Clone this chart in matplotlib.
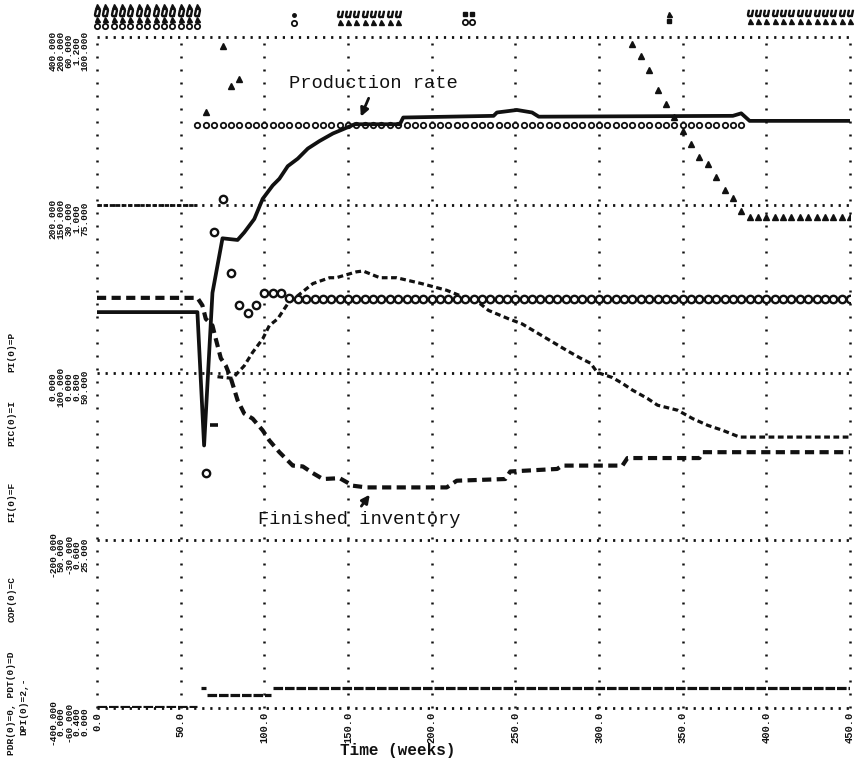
import numpy as np
import matplotlib
matplotlib.use("Agg")
import matplotlib.pyplot as plt

# ---------------- data (time in weeks, values on the -400..400 chart scale) -------------
X_TICKS = [0, 50, 100, 150, 200, 250, 300, 350, 400, 450]
X_LABELS = ["0.0", "50.0", "100.0", "150.0", "200.0", "250.0", "300.0", "350.0", "400.0", "450.0"]
Y_GRID = [-400, -200, 0, 200, 400]

# Production rate (solid line)
T_PROD = [0, 60, 64, 69, 75, 84, 88, 94, 99, 105, 109, 114, 120, 126, 133, 141, 147, 154,
          181, 183, 237, 239, 251, 260, 264, 380, 385, 390, 450]
PROD = [72, 72, -87, 95, 160, 158, 167, 183, 207, 223, 231, 246, 255, 267, 276, 285, 290, 296,
        296, 304, 306, 310, 313, 310, 305, 306, 309, 300, 300]

# Finished inventory (heavy dashes)
T_FINV = [0, 60, 63, 65, 69, 71, 74, 77, 80, 84, 88, 93, 99, 103, 109, 117, 123, 129, 135,
          145, 153, 161, 209, 215, 244, 247, 275, 278, 314, 317, 360, 362, 450]
FINV = [89, 89, 80, 64, 56, 40, 17, 8, -7, -33, -49, -55, -69, -81, -95, -111, -112, -120, -127,
        -126, -135, -137, -137, -129, -127, -118, -115, -111, -111, -102, -102, -95, -95]

# "-" symbol series (rises, then falls)
T_DASH_ISO = [70]
DASH_ISO = [-63]
T_DASH = [72, 81, 88, 93, 99, 103, 108, 114, 124, 129, 139, 143, 155, 159, 169, 179,
          194, 209, 229, 234, 246, 254, 281, 289, 295, 299, 308, 314, 320, 329, 335, 347, 356,
          365, 374, 384, 450]
DASH = [-5, -7, 8, 24, 40, 56, 64, 82, 98, 106, 113, 113, 120, 121, 113, 113,
        106, 98, 82, 74, 64, 58, 26, 17, 11, 0, -6, -13, -21, -31, -39, -45, -55,
        -63, -69, -77, -77]

# "O" symbol series (plotted every 5 weeks)
T_CIRC = [65, 70, 75, 80, 85, 90, 95, 100, 105, 110, 115, 120, 125, 130, 135, 140, 145, 150,
          155, 160, 165, 170, 175, 180, 185, 190, 195, 200, 205, 210, 215, 220, 225, 230, 235,
          240, 245, 250, 255, 260, 265, 270, 275, 280, 285, 290, 295, 300, 305, 310, 315, 320,
          325, 330, 335, 340, 345, 350, 355, 360, 365, 370, 375, 380, 385, 390, 395, 400, 405,
          410, 415, 420, 425, 430, 435, 440, 445, 450]
CIRC = [-120, 167, 207, 119, 80, 71, 80, 95, 95, 95, 89, 88, 88, 88, 88, 88, 88, 88,
        88, 88, 88, 88, 88, 88, 88, 88, 88, 88, 88, 88, 88, 88, 88, 88, 88,
        88, 88, 88, 88, 88, 88, 88, 88, 88, 88, 88, 88, 88, 88, 88, 88, 88,
        88, 88, 88, 88, 88, 88, 88, 88, 88, 88, 88, 88, 88, 88, 88, 88, 88,
        88, 88, 88, 88, 88, 88, 88, 88, 88]

# "u" symbol series near the top (every 5 weeks)
T_USYM = [60, 65, 70, 75, 80, 85, 90, 95, 100, 105, 110, 115, 120, 125, 130, 135, 140, 145,
          150, 155, 160, 165, 170, 175, 180, 185, 190, 195, 200, 205, 210, 215, 220, 225, 230,
          235, 240, 245, 250, 255, 260, 265, 270, 275, 280, 285, 290, 295, 300, 305, 310, 315,
          320, 325, 330, 335, 340, 345, 350, 355, 360, 365, 370, 375, 380, 385]
USYM = [295, 295, 295, 295, 295, 295, 295, 295, 295, 295, 295, 295, 295, 295, 295, 295, 295, 295,
        295, 295, 295, 295, 295, 295, 295, 295, 295, 295, 295, 295, 295, 295, 295, 295, 295,
        295, 295, 295, 295, 295, 295, 295, 295, 295, 295, 295, 295, 295, 295, 295, 295, 295,
        295, 295, 295, 295, 295, 295, 295, 295, 295, 295, 295, 295, 295, 295]

# "A" symbol series (nan = off the top of the chart)
nan = np.nan
T_ASYM = [65, 70, 75, 80, 85, 320, 325, 330, 335, 340, 345, 350, 355, 360, 365, 370, 375, 380,
          385, 390, 395, 400, 405, 410, 415, 420, 425, 430, 435, 440, 445, 450]
ASYM = [310, nan, 389, 342, 350, 392, 377, 361, 337, 320, 305, 288, 272, 257, 249, 233, 217, 208,
        193, 185, 185, 185, 185, 185, 185, 185, 185, 185, 185, 185, 185, 185]
T_ASYM0 = [0, 60]
ASYM0 = [200, 200]

# bottom series, drawn as flat segments
G_START = [0, 62, 66, 105]
G_END = [60, 65, 104, 450]
G_VAL = [-399, -376, -385, -376]

# off-scale symbols printed above the chart
OVF_EARLY = [0, 5, 10, 15, 20, 25, 30, 35, 40, 45, 50, 55, 60]
OVF_MID = [145, 150, 155, 160, 165, 170, 175, 180]
OVF_LATE = [390, 395, 400, 405, 410, 415, 420, 425, 430, 435, 440, 445, 450]

# scale labels (one column per scale, one entry per grid line from bottom to top)
SCALE_COLS = [
    ["-400.000", "-200.000", "0.000", "200.000", "400.000"],
    ["0.000", "50.000", "100.000", "150.000", "200.000"],
    ["-60.000", "-30.000", "0.000", "30.000", "60.000"],
    ["0.400", "0.600", "0.800", "1.000", "1.200"],
    ["0.000", "25.000", "50.000", "75.000", "100.000"],
]

# ---------------- figure -------------
W, H = 860, 761
L, R, TOP, BOT = 97, 850, 37, 708
fig = plt.figure(figsize=(W / 100, H / 100), dpi=100)
fig.patch.set_facecolor("white")
ax = fig.add_axes([L / W, 1 - BOT / H, (R - L) / W, (BOT - TOP) / H])
ax.set_xlim(0, 450)
ax.set_ylim(-400, 400)
ax.axis("off")

MONO = ["Liberation Mono", "DejaVu Sans Mono"]
K = "#111111"

for x in X_TICKS:
    ax.axvline(x, color=K, lw=1.8, linestyle=(0, (0.8, 4.4)), clip_on=False, zorder=1)
for y in Y_GRID:
    ax.axhline(y, color=K, lw=2.0, linestyle=(0, (0.8, 2.1)), clip_on=False, zorder=1)

ax.plot(T_USYM, USYM, linestyle="none", marker="o", ms=3.9, mfc="white", mec=K, mew=1.3, zorder=3)
ax.plot(T_PROD, PROD, color=K, lw=2.7, solid_joinstyle="round", zorder=4)
ax.plot(T_FINV, FINV, color=K, lw=3.0, linestyle=(0, (2.2, 1.3)), zorder=4)
ax.plot(T_DASH, DASH, color=K, lw=2.3, linestyle=(0, (1.8, 1.1)), zorder=4)
ax.plot(T_DASH_ISO, DASH_ISO, linestyle="none", marker="_", ms=6, mew=2.6, color=K, zorder=4)
ax.plot(T_CIRC, CIRC, linestyle="none", marker="o", ms=5.3, mfc="white", mec=K, mew=1.7, zorder=5)
ax.plot(T_ASYM, ASYM, linestyle="none", marker="^", ms=5, color=K, zorder=5)
ax.plot(T_ASYM0, ASYM0, color=K, lw=2.0, linestyle=(0, (1.6, 0.6)), zorder=4)
ax.hlines(G_VAL, G_START, G_END, color=K, lw=2.3, linestyles=(0, (3, 0.6)), zorder=4)

tr = ax.get_xaxis_transform()


def ay(py):
    return (BOT - py) / (BOT - TOP)


def row(ts, py, marker, **kw):
    ax.plot(ts, [ay(py)] * len(ts), transform=tr, linestyle="none", marker=marker,
            clip_on=False, color=K, **kw)


row(OVF_EARLY, 6, "^", ms=3.6)
row(OVF_EARLY, 13, "$u$", ms=4.5)
row(OVF_EARLY, 19, "^", ms=3.6)
row(OVF_EARLY, 26, "o", ms=3.8, mfc="white", mew=1.3)
row(OVF_MID, 14, "$u$", ms=4.5)
row(OVF_MID, 22, "^", ms=3.6)
row([118], 15, "o", ms=2.5)
row([118], 23, "o", ms=3.8, mfc="white", mew=1.3)
row([220, 224], 14, "s", ms=3)
row([220, 224], 22, "o", ms=3.8, mfc="white", mew=1.3)
row([342], 14, "^", ms=3.6)
row([342], 21, "s", ms=3)
row(OVF_LATE, 13, "$u$", ms=4.5)
row(OVF_LATE, 21, "^", ms=3.6)

# x tick labels
for x, lab in zip(X_TICKS, X_LABELS):
    ax.text(x, ay(712), lab, transform=tr, rotation=90, ha="center", va="top",
            family=MONO, weight="bold", fontsize=7.5, color=K)

# scale label columns
col_x = [53, 61, 69, 77, 85]
for cx, labs in zip(col_x, SCALE_COLS):
    for gy, lab in zip(Y_GRID, labs):
        pyc = BOT - (gy + 400) / 800 * (BOT - TOP)
        fig.text(cx / W, 1 - (pyc + 14) / H, lab, rotation=90, ha="center", va="center",
                 family=MONO, weight="bold", fontsize=6.8, color=K)

# variable legend along the left edge
legend_items = [("PDR(0)=0, PDT(0)=D", 755), ("COP(0)=C", 622), ("FI(0)=F", 522),
                ("PIC(0)=I", 446), ("PI(0)=P", 372)]
for txt, pyb in legend_items:
    fig.text(12 / W, 1 - pyb / H, txt, rotation=90, ha="center", va="bottom",
             family=MONO, weight="bold", fontsize=6.8, color=K)
fig.text(24 / W, 1 - 735 / H, "DPI(0)=2,-", rotation=90, ha="center", va="bottom",
         family=MONO, weight="bold", fontsize=6.8, color=K)

# annotations
ax.text(115, 344, "Production rate", family=MONO, fontsize=13.5, ha="left", va="center", color=K)
ax.annotate("", xy=(157, 302), xytext=(163, 330),
            arrowprops=dict(arrowstyle="-|>", color=K, lw=2, mutation_scale=12))
ax.text(96, -175, "Finished inventory", family=MONO, fontsize=13.5, ha="left", va="center", color=K)
ax.annotate("", xy=(164, -143), xytext=(157, -162),
            arrowprops=dict(arrowstyle="-|>", color=K, lw=2, mutation_scale=12))
fig.text(398 / W, 1 - 750 / H, "Time (weeks)", family=MONO, weight="bold", fontsize=11.5,
         ha="center", va="center", color=K)

fig.savefig("out.png", dpi=100, facecolor="white")
